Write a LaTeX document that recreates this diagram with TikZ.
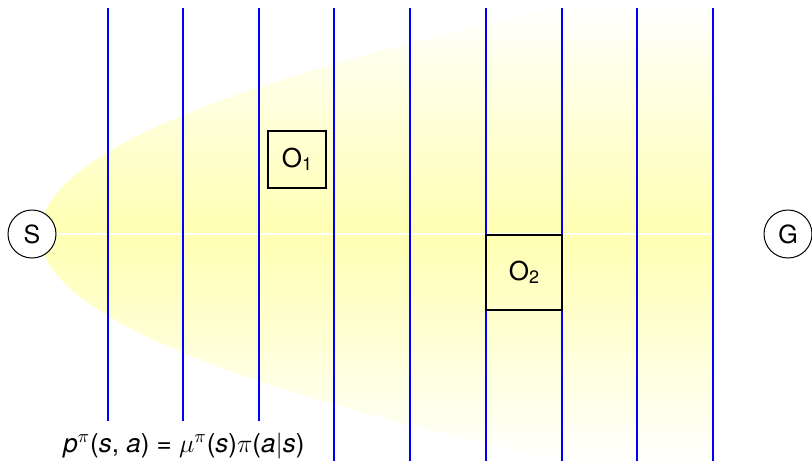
\documentclass[tikz,border=0pt]{standalone}
\usepackage{fix-cm}
\usepackage{fontspec}
\setmainfont{TeX Gyre Heros}
\newcommand{\subsc}[1]{\raisebox{-1.7pt}{\fontsize{9}{10}\selectfont #1}}
\begin{document}
\begin{tikzpicture}[x=0.5pt,y=-0.5pt,
  vline/.style={blue, line width=0.55pt},
  state/.style={circle, draw=black, line width=0.5pt, fill=white, minimum size=24pt, inner sep=0pt, font=\fontsize{12.5}{14}\selectfont},
  obst/.style={draw=black, line width=1pt, inner sep=0pt, font=\fontsize{13}{15}\selectfont}]
\useasboundingbox (0,0) rectangle (812,461);
\begin{scope}
  \clip (0,0) rectangle (812,461);
  \begin{scope}
    \clip plot[domain=-25.94:25.94, samples=121, smooth] ({40+\x*\x},{234+9.93*\x}) -- cycle;
    \shade[top color=white, bottom color=white, middle color=yellow!30] (40,0) rectangle (713,468);
  \end{scope}
\end{scope}
\node[state] (S) at (32,234) {S};
\node[state] (G) at (788,234) {G};
\coordinate (wend) at (713,234);
\draw[white, line width=0.75pt] (S.east) -- (wend);
\foreach \x in {108,183,259} \draw[vline] (\x,8) -- (\x,421);
\foreach \x in {334,410,486,562,637,713} \draw[vline] (\x,8) -- (\x,461);
\node[obst, minimum width=29pt, minimum height=28.5pt] (O1) at (297,159) {O\subsc{1}};
\node[obst, minimum width=38pt, minimum height=37.5pt] (O2) at (524,272.5) {O\subsc{2}};
\node[anchor=base west, inner sep=0pt, font=\fontsize{13}{15}\selectfont] (f) at (63,452)
  {\textit{p}$^{\pi}$(\textit{s}, \textit{a}) = $\mu^{\pi}$(\textit{s})$\pi$(\textit{a}$|$\textit{s})};
\end{tikzpicture}
\end{document}
